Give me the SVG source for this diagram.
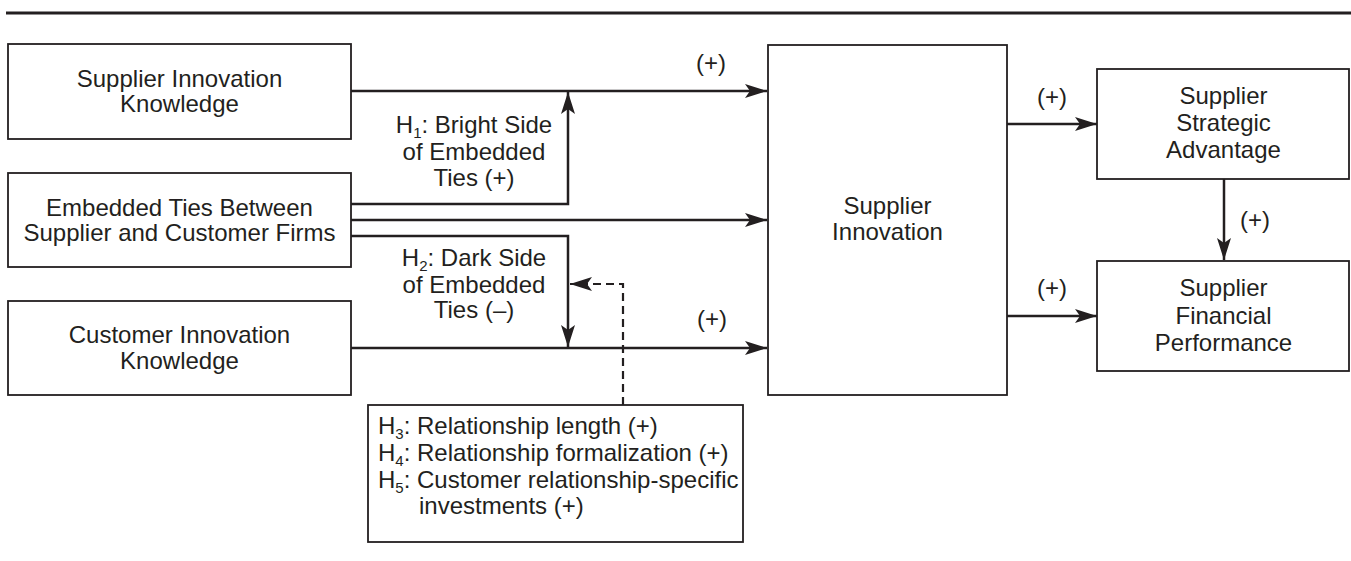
<svg xmlns="http://www.w3.org/2000/svg" width="1351" height="561" viewBox="0 0 1351 561">
  <style>
    .box { fill: #ffffff; stroke: #231f20; stroke-width: 1.8; }
    .lbl { font-family: "Liberation Sans", Arial, sans-serif; font-size: 24px; fill: #231f20; }
    .mid { text-anchor: middle; }
    .sub { font-size: 15px; }
    .wire { fill: none; stroke: #231f20; stroke-width: 2.5; }
    .dash { stroke-dasharray: 8 5; stroke-width: 2.2; }
    .rule { stroke: #231f20; stroke-width: 3; }
  </style>
  <defs>
    <marker id="head" markerUnits="userSpaceOnUse" markerWidth="24" markerHeight="16" refX="22" refY="7" orient="auto">
      <path d="M0,0 L22,7 L0,14 L5,7 Z" fill="#231f20" stroke="none"/>
    </marker>
  </defs>

  <!-- top rule -->
  <line class="rule" x1="6" y1="13" x2="1351" y2="13"/>

  <!-- connectors -->
  <g id="connectors">
    <path class="wire" d="M351,91 H767" marker-end="url(#head)"/>
    <path class="wire" d="M351,204 H568 V92" marker-end="url(#head)"/>
    <path class="wire" d="M351,220 H767" marker-end="url(#head)"/>
    <path class="wire" d="M351,236 H568 V347" marker-end="url(#head)"/>
    <path class="wire" d="M351,348 H767" marker-end="url(#head)"/>
    <path class="wire dash" d="M623,405 V284 H570" marker-end="url(#head)"/>
    <path class="wire" d="M1007,124 H1097" marker-end="url(#head)"/>
    <path class="wire" d="M1007,316 H1097" marker-end="url(#head)"/>
    <path class="wire" d="M1224,179 V260" marker-end="url(#head)"/>

    <text class="lbl mid" x="711" y="71">(+)</text>
    <text class="lbl mid" x="712" y="327">(+)</text>
    <text class="lbl mid" x="1052" y="105">(+)</text>
    <text class="lbl mid" x="1052" y="296">(+)</text>
    <text class="lbl mid" x="1255" y="228">(+)</text>

    <text class="lbl mid" x="474" y="133">H<tspan class="sub" dy="5">1</tspan><tspan dy="-5">: Bright Side</tspan></text>
    <text class="lbl mid" x="474" y="160">of Embedded</text>
    <text class="lbl mid" x="474" y="186">Ties (+)</text>

    <text class="lbl mid" x="474" y="266">H<tspan class="sub" dy="5">2</tspan><tspan dy="-5">: Dark Side</tspan></text>
    <text class="lbl mid" x="474" y="293">of Embedded</text>
    <text class="lbl mid" x="474" y="318">Ties (–)</text>
  </g>

  <g id="supplier-innovation-knowledge">
    <rect class="box" x="8" y="44" width="343" height="95"/>
    <text class="lbl mid" x="179.5" y="87">Supplier Innovation</text>
    <text class="lbl mid" x="179.5" y="112">Knowledge</text>
  </g>

  <g id="embedded-ties">
    <rect class="box" x="8" y="173" width="343" height="94"/>
    <text class="lbl mid" x="179.5" y="216">Embedded Ties Between</text>
    <text class="lbl mid" x="179.5" y="241">Supplier and Customer Firms</text>
  </g>

  <g id="customer-innovation-knowledge">
    <rect class="box" x="8" y="301" width="343" height="94"/>
    <text class="lbl mid" x="179.5" y="343">Customer Innovation</text>
    <text class="lbl mid" x="179.5" y="369">Knowledge</text>
  </g>

  <g id="supplier-innovation">
    <rect class="box" x="768" y="45" width="239" height="350"/>
    <text class="lbl mid" x="887.5" y="214">Supplier</text>
    <text class="lbl mid" x="887.5" y="240">Innovation</text>
  </g>

  <g id="supplier-strategic-advantage">
    <rect class="box" x="1097" y="69" width="252" height="110"/>
    <text class="lbl mid" x="1223.5" y="104">Supplier</text>
    <text class="lbl mid" x="1223.5" y="131">Strategic</text>
    <text class="lbl mid" x="1223.5" y="158">Advantage</text>
  </g>

  <g id="supplier-financial-performance">
    <rect class="box" x="1097" y="261" width="252" height="110"/>
    <text class="lbl mid" x="1223.5" y="296">Supplier</text>
    <text class="lbl mid" x="1223.5" y="324">Financial</text>
    <text class="lbl mid" x="1223.5" y="351">Performance</text>
  </g>

  <g id="moderators">
    <rect class="box" x="368" y="405" width="375" height="137"/>
    <text class="lbl" x="378" y="434">H<tspan class="sub" dy="5">3</tspan><tspan dy="-5">: Relationship length (+)</tspan></text>
    <text class="lbl" x="378" y="461">H<tspan class="sub" dy="5">4</tspan><tspan dy="-5">: Relationship formalization (+)</tspan></text>
    <text class="lbl" x="378" y="488">H<tspan class="sub" dy="5">5</tspan><tspan dy="-5">: Customer relationship-specific</tspan></text>
    <text class="lbl" x="419" y="514">investments (+)</text>
  </g>
</svg>
